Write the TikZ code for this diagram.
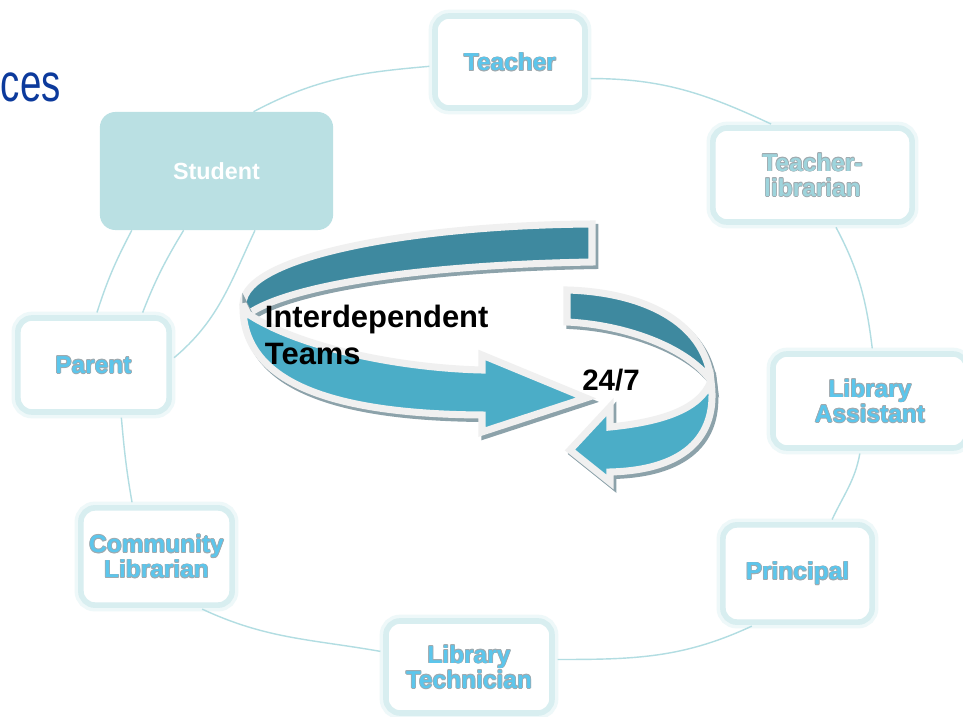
\documentclass[tikz,border=0pt]{standalone}
\usepackage{fontspec}
\setmainfont{Liberation Sans}
\usepackage{graphicx}
\usepackage{xcolor}
\definecolor{titleblue}{RGB}{12,58,156}
\definecolor{boxedge}{RGB}{216,238,240}
\definecolor{boxglow}{RGB}{238,248,249}
\definecolor{linkc}{RGB}{178,221,226}
\definecolor{skyblue}{RGB}{92,198,236}
\definecolor{palecyan}{RGB}{158,212,220}
\definecolor{studentfill}{RGB}{186,224,227}
\definecolor{rim}{RGB}{160,170,175}
\definecolor{bandback}{RGB}{62,137,159}
\definecolor{bandfront}{RGB}{75,173,199}
\definecolor{bandedge}{RGB}{240,240,240}
\definecolor{bandshadow}{RGB}{140,162,170}

\newcommand\rimcopy[3]{\makebox[0pt][l]{\hspace{#1}\raisebox{#2}{\color{rim}#3}}}
\newcommand\outl[1]{\rimcopy{.5pt}{0pt}{#1}\rimcopy{-.5pt}{0pt}{#1}\rimcopy{0pt}{.5pt}{#1}\rimcopy{0pt}{-.5pt}{#1}%
  \rimcopy{.4pt}{.4pt}{#1}\rimcopy{-.4pt}{.4pt}{#1}\rimcopy{.4pt}{-.4pt}{#1}\rimcopy{-.4pt}{-.4pt}{#1}#1}

\tikzset{
    member/.style={draw=boxedge, line width=4pt, fill=white, rounded corners=10pt, inner sep=0pt,
        align=center, text=skyblue, font=\bfseries\fontsize{17.4}{18}\selectfont,
        preaction={draw=boxglow, line width=9pt}},
    link/.style={draw=linkc, line width=1pt, shorten <=2pt, shorten >=2pt},
    band/.style={draw=bandedge, line width=5pt, miter limit=4,
        preaction={draw=bandshadow, fill=bandshadow, line width=5pt, transform canvas={shift={(2pt,-2.5pt)}}}}
}

\begin{document}
\begin{tikzpicture}[x=0.025cm, y=-0.025cm]
    \useasboundingbox (0,0) rectangle (963,717);
    \fill[white] (0,0) rectangle (963,717);

    \node[anchor=base east, inner sep=0pt, text=titleblue, font=\fontsize{38}{38}\selectfont] (title) at (61,101) {\scalebox{.72}[1]{ces}};

    \node[fill=studentfill, rounded corners=11pt, minimum width=5.83cm, minimum height=2.95cm,
        text=white, font=\bfseries\fontsize{16.6}{18}\selectfont] (student) at (216.5,171) {Student};
    \node[member, minimum width=3.75cm, minimum height=2.3cm] (teacher) at (510,62) {\outl{Teacher}};
    \node[member, text=palecyan, minimum width=4.98cm, minimum height=2.35cm] (tl) at (812.5,175) {\outl{Teacher-}\\\outl{librarian}};
    \node[member, minimum width=4.85cm, minimum height=2.35cm] (assistant) at (870,401) {\outl{Library}\\\outl{Assistant}};
    \node[member, minimum width=3.73cm, minimum height=2.43cm] (principal) at (797.5,573.5) {\outl{Principal}};
    \node[member, minimum width=4.15cm, minimum height=2.3cm] (technician) at (469,667) {\outl{Library}\\\outl{Technician}};
    \node[member, minimum width=3.78cm, minimum height=2.43cm] (community) at (156.5,556.5) {\outl{Community}\\\outl{Librarian}};
    \node[member, minimum width=3.78cm, minimum height=2.35cm] (parent) at (93.5,365) {\outl{Parent}};

    \draw[link, shorten >=0pt] (teacher.183) to[out=185, in=28] (student.58);
    \draw[link] (teacher.-12) to[out=0, in=155] (tl.128);
    \draw[link] (tl.-66) to[out=-62, in=97] (assistant.87);
    \draw[link] (assistant.-101) to[out=-100, in=65] (principal.57);
    \draw[link] (principal.-130) to[out=-155, in=0] (technician.5);
    \draw[link] (technician.170) to[out=170, in=-25] (community.-50);
    \draw[link] (community.115) to[out=100, in=-85] (parent.-61);
    \draw[link, shorten >=0pt] (parent.87) to[bend left=5] (student.-145);
    \draw[link, shorten >=0pt] (parent.46) to[bend left=5] (student.-119);
    \draw[link, shorten >=0pt] (parent.4) to[out=40, in=-115] (student.-57);

    \begin{scope}
        \draw[band, fill=bandback] (592,262) -- (592,224) .. controls (420,225) and (244,255) .. (243,304)
            -- (248,314) .. controls (290,285) and (420,265) .. (592,262) -- cycle;
        \draw[band, fill=bandfront] (248,314) .. controls (300,348) and (400,368) .. (482,370)
            -- (482,355) -- (586,398) -- (482,432) -- (482,415) .. controls (330,414) and (241,382) .. (243,304) -- cycle;
    \end{scope}
    \begin{scope}
        \draw[band, fill=bandback] (567,322) -- (567,290) .. controls (640,292) and (705,320) .. (711,381)
            .. controls (690,350) and (630,325) .. (567,322) -- cycle;
        \draw[band, fill=bandfront] (711,381) .. controls (718,432) and (690,470) .. (610,472)
            -- (610,482) -- (570,450) -- (610,407) -- (610,427) .. controls (660,422) and (700,410) .. (711,381) -- cycle;
    \end{scope}

    \node[anchor=west, align=left, font=\bfseries\fontsize{22}{26.3}\selectfont] (teams) at (260,335) {Interdependent\\Teams};
    \node[font=\bfseries\fontsize{21}{21}\selectfont] (clock) at (611,380) {24/7};
\end{tikzpicture}
\end{document}
